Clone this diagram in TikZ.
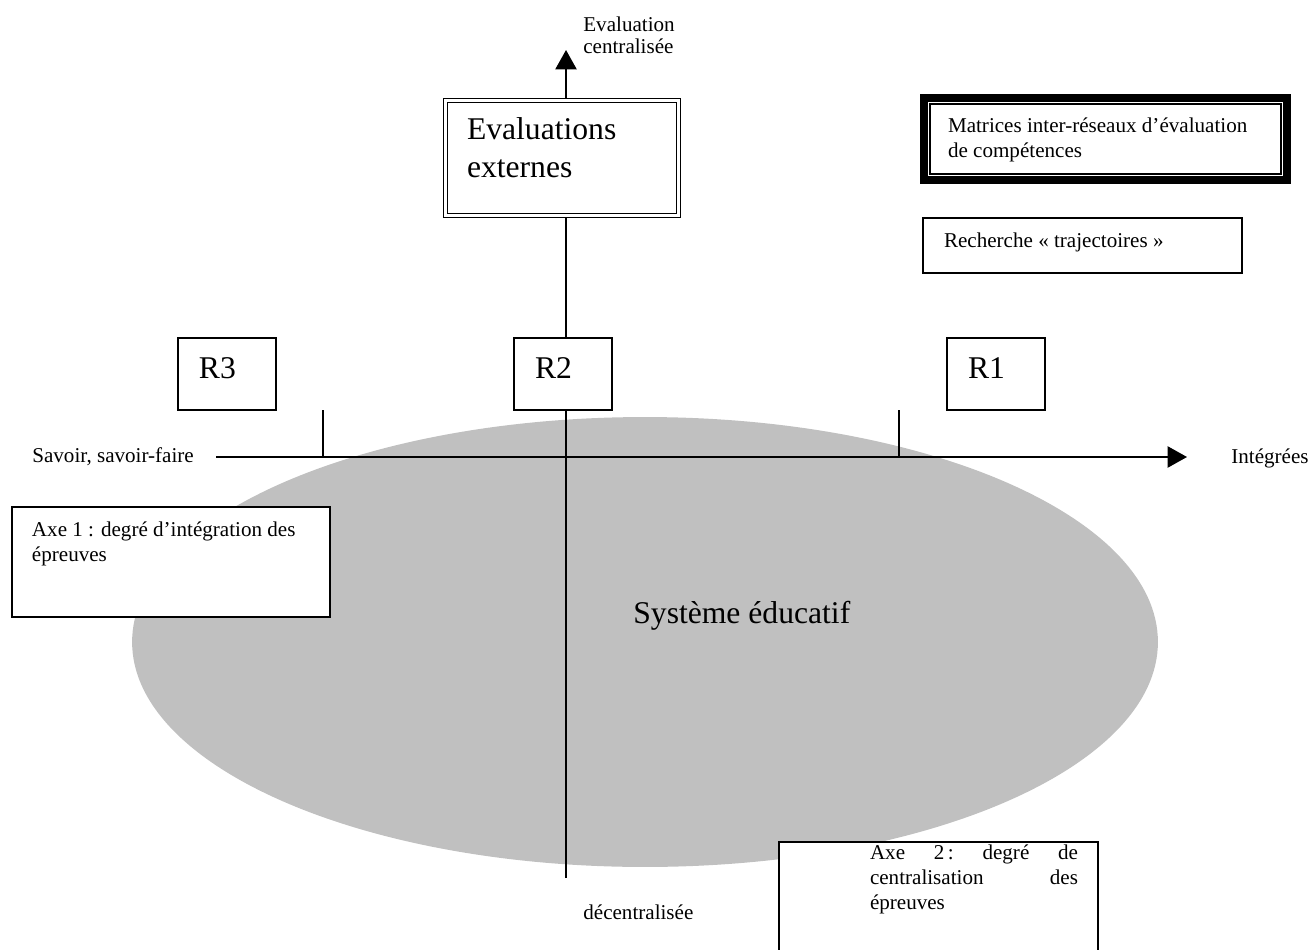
\documentclass[tikz,border=0pt]{standalone}
\usepackage{fontspec}
\setmainfont{Liberation Serif}
\usepackage{xcolor}
\usepackage{tikz}
\usetikzlibrary{arrows.meta, shapes.geometric, calc}

\definecolor{gris}{HTML}{C0C0C0}
\newdimen\px \px=0.02cm
\newcommand\petit{\fontsize{12pt}{14.2pt}\selectfont}
\newcommand\grand{\fontsize{18pt}{21.6pt}\selectfont}
\newcommand\contenu[3]{\parbox[t][#2\px][t]{#1\px}{\strut #3}}

\tikzset{
  cadre/.style={draw, fill=white, line width=0.75pt, anchor=north west,
    outer sep=0pt, inner sep=0pt},
  axe/.style={line width=1.1pt, -{Triangle[length=11pt, width=12pt]}},
  repere/.style={line width=1pt},
  texte/.style={anchor=base west, inner sep=0pt, font=\petit}
}

\begin{document}
\begin{tikzpicture}[x=0.02cm, y=-0.02cm]
\useasboundingbox (0,0) rectangle (1310,949);
\clip (0,0) rectangle (1310,949);

% Système éducatif
\node[ellipse, fill=gris, minimum width=20.52cm, minimum height=9cm,
  inner sep=0pt] (sys) at (645,642) {};
\node[texte, font=\grand] (systeme) at (633,623) {Système éducatif};

% axes
\coordinate (bas) at (566,878);
\coordinate (haut) at (566,50);
\coordinate (gauche) at (216,457);
\coordinate (droite) at (1187,457);
\draw[axe] (bas) -- (haut);
\draw[axe] (gauche) -- (droite);

% repères sur l'axe 1
\coordinate (g1) at (323,410); \coordinate (g2) at (323,457);
\coordinate (d1) at (899,410); \coordinate (d2) at (899,457);
\draw[repere] (g1) -- (g2);
\draw[repere] (d1) -- (d2);

% libellés des axes
\node[texte] (savoir) at (32,462) {Savoir, savoir-faire};
\node[texte] (integ) at (1231,463) {Intégrées};
\node[texte] (decentr) at (583,919) {décentralisée};
\node[texte, font={\fontsize{12pt}{12pt}\selectfont}] (centr) at (583,32)
  {\parbox[t]{100\px}{Evaluation\\centralisée}};

% réseaux
\node[cadre, font=\grand, inner xsep=0.42cm, inner ysep=0.288cm] (r3)
  at (178,338) {\contenu{56}{43.2}{R3}};
\node[cadre, font=\grand, inner xsep=0.42cm, inner ysep=0.288cm] (r2)
  at (514,338) {\contenu{56}{43.2}{R2}};
\node[cadre, font=\grand, inner xsep=0.42cm, inner ysep=0.288cm] (r1)
  at (947,338) {\contenu{56}{43.2}{R1}};

% évaluations externes
\node[cadre, double, double distance=1.5pt, line width=0.7pt, font=\grand,
  inner xsep=0.43cm, inner ysep=0.258cm] (ext) at (445.5,100.5)
  {\contenu{190}{89}{Evaluations\\externes}};

% dispositifs à droite
\node[cadre, line width=4.5pt, font=\petit, inner xsep=0.48cm,
  inner ysep=0.35cm] (mat) at (924,98)
  {\contenu{315}{47}{Matrices inter-réseaux d’évaluation\\de compétences}};
\draw[line width=0.6pt] ($(mat.north west)+(6,6)$)
  rectangle ($(mat.south east)+(-6,-6)$);
\node[cadre, font=\petit, inner xsep=0.42cm, inner ysep=0.25cm] (rech)
  at (923,218) {\contenu{277}{30}{Recherche « trajectoires »}};

% légendes des axes
\node[cadre, font=\petit, inner xsep=0.4cm, inner ysep=0.25cm] (axe1)
  at (12,507) {\contenu{278}{85}{Axe 1 : degré d’intégration des\\épreuves}};
\node[cadre, font=\petit, inner xsep=0.4cm, inner ysep=0pt] (axe2)
  at (779,842) {\contenu{279}{130}{\leftskip=71\px
  Axe\hfill 2\,:\hfill degré\hfill de\\centralisation\hfill des\\épreuves}};

\end{tikzpicture}
\end{document}
